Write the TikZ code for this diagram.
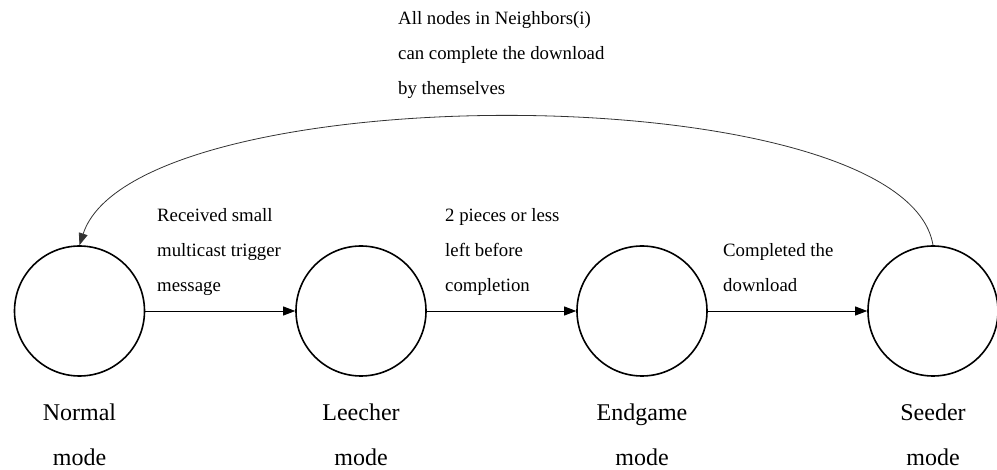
\documentclass[tikz,border=0pt]{standalone}
\usepackage{fontspec}
\setmainfont{Liberation Serif}
\usetikzlibrary{arrows.meta}
\begin{document}
\begin{tikzpicture}[x=1pt,y=-1pt,
  state/.style={circle,draw=black,line width=1.6pt,minimum size=130pt,inner sep=0pt},
  modelabel/.style={align=center,anchor=base,font={\fontsize{24}{45}\selectfont}},
  edgelabel/.style={align=left,anchor=base west,inner xsep=0pt,font={\fontsize{18.8}{35}\selectfont}},
  trans/.style={draw=black,line width=0.8pt,-{Triangle[length=12pt,width=9pt]}},
  back/.style={draw=black!80,line width=0.8pt,-{Triangle[length=12pt,width=9pt]}}]
\useasboundingbox (0,0) rectangle (997,470);
\fill[white] (0,0) rectangle (997,470);

% the four modes
\node[state] (normal)  at (79.5,311) {};
\node[state] (leecher) at (361,311) {};
\node[state] (endgame) at (642,311) {};
\node[state] (seeder)  at (933,311) {};

% mode names (anchored at the baseline of their last line)
\node[modelabel] (normallbl)  at (79.5,466) {Normal\\mode};
\node[modelabel] (leecherlbl) at (361,466) {Leecher\\mode};
\node[modelabel] (endgamelbl) at (642,466) {Endgame\\mode};
\node[modelabel] (seederlbl)  at (933,466) {Seeder\\mode};

% transitions
\draw[trans] (normal.east) -- (leecher.west);
\draw[trans] (leecher.east) -- (endgame.west);
\draw[trans] (endgame.east) -- (seeder.west);
\draw[back] (seeder.north) .. controls (905,74) and (135,74) .. (normal.north);

% transition conditions
\node[edgelabel] (t1) at (157,292) {Received small\\multicast\ trigger\\message};
\node[edgelabel] (t2) at (445,292) {2 pieces or less\\left before\\completion};
\node[edgelabel] (t3) at (723,292) {Completed the\\download};
\node[edgelabel] (t4) at (398,95) {All nodes in Neighbors(i)\\can complete the download\\by themselves};
\end{tikzpicture}
\end{document}
